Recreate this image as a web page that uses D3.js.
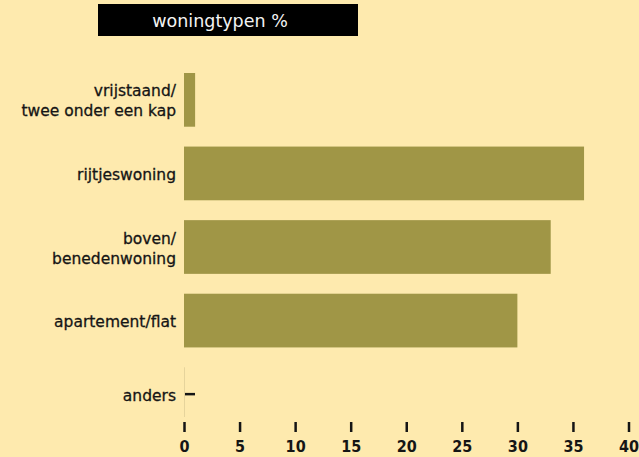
<!DOCTYPE html>
<html>
<head>
<meta charset="utf-8">
<script src="https://cdn.jsdelivr.net/npm/d3@7"></script>
<style>
  body { margin: 0; background: #feeaae; }
  svg { display: block; }
  text { font-family: "DejaVu Sans", sans-serif; fill: #151515; }
</style>
</head>
<body>
<svg width="639" height="457"></svg>
<script>
"use strict";

// Data.

var Categories = ["vrijstaand/\ntwee onder een kap", "rijtjeswoning", "boven/\nbenedenwoning", "apartement/flat", "anders"];
var Values = [1, 36, 33, 30, 0];
var TickValues = [0, 5, 10, 15, 20, 25, 30, 35, 40];
var Title = "woningtypen %";

// SVG and styles.

var svg = d3.select("svg");
var BarColor = "#a09646";
var BgColor = "#feeaae";

svg.append("rect")
    .attr("width", 639).attr("height", 457)
    .attr("fill", BgColor);

// Scales.

var x = d3.scaleLinear().domain([0, 40]).range([184, 628.5]);
var y = d3.scaleBand().domain(Categories).range([73, 421]).paddingInner(0.27).paddingOuter(0);

// Title.

svg.append("rect")
    .attr("x", 98).attr("y", 4)
    .attr("width", 260).attr("height", 32)
    .attr("fill", "#000");

svg.append("text")
    .attr("x", 220).attr("y", 27)
    .attr("text-anchor", "middle")
    .style("font-size", "17.5px")
    .style("fill", "#f4f4f4")
    .text(Title);

// Bars.

svg.selectAll("rect.bar")
    .data(Values)
    .enter()
    .append("rect")
        .attr("class", "bar")
        .attr("x", x(0))
        .attr("y", function(d, i){ return y(Categories[i]); })
        .attr("width", function(d){ return x(d) - x(0); })
        .attr("height", y.bandwidth())
        .attr("fill", BarColor);

// Zero value: faint baseline and a dash.

Values.forEach(function(d, i){
    if (d !== 0) return;
    var top = y(Categories[i]);
    svg.append("line")
        .attr("x1", x(0) + 0.5).attr("x2", x(0) + 0.5)
        .attr("y1", top).attr("y2", top + y.bandwidth() - 4)
        .style("stroke", "#e6d49c")
        .style("stroke-width", 1);
    svg.append("line")
        .attr("x1", x(0) + 1).attr("x2", x(0) + 11)
        .attr("y1", top + y.bandwidth()/2).attr("y2", top + y.bandwidth()/2)
        .style("stroke", "#151515")
        .style("stroke-width", 2.5);
});

// Category labels.

var labels = svg.selectAll("text.cat")
    .data(Categories)
    .enter()
    .append("text")
        .attr("class", "cat")
        .attr("text-anchor", "end")
        .style("font-size", "15.5px")
        .style("stroke", "#151515")
        .style("stroke-width", 0.3)
        .attr("transform", function(d){
            return "translate(176," + (y(d) + y.bandwidth()/2 + 6.5) + ")";
        });

labels.each(function(d){
    var lines = d.split("\n");
    var t = d3.select(this);
    lines.forEach(function(s, k){
        t.append("tspan")
            .attr("x", 0)
            .attr("y", (k - (lines.length - 1)/2) * 20)
            .text(s);
    });
});

// X axis.

var axis = svg.append("g")
    .attr("transform", "translate(0,422)")
    .call(d3.axisBottom(x).tickValues(TickValues).tickSize(10).tickPadding(8.5));

axis.select(".domain").remove();
axis.selectAll(".tick line")
    .style("stroke", "#151515")
    .style("stroke-width", 2.5);
axis.selectAll(".tick text")
    .style("font-family", "'DejaVu Sans Condensed', 'DejaVu Sans', sans-serif")
    .style("font-size", "16px")
    .style("font-weight", "bold")
    .style("fill", "#151515");
</script>
</body>
</html>
